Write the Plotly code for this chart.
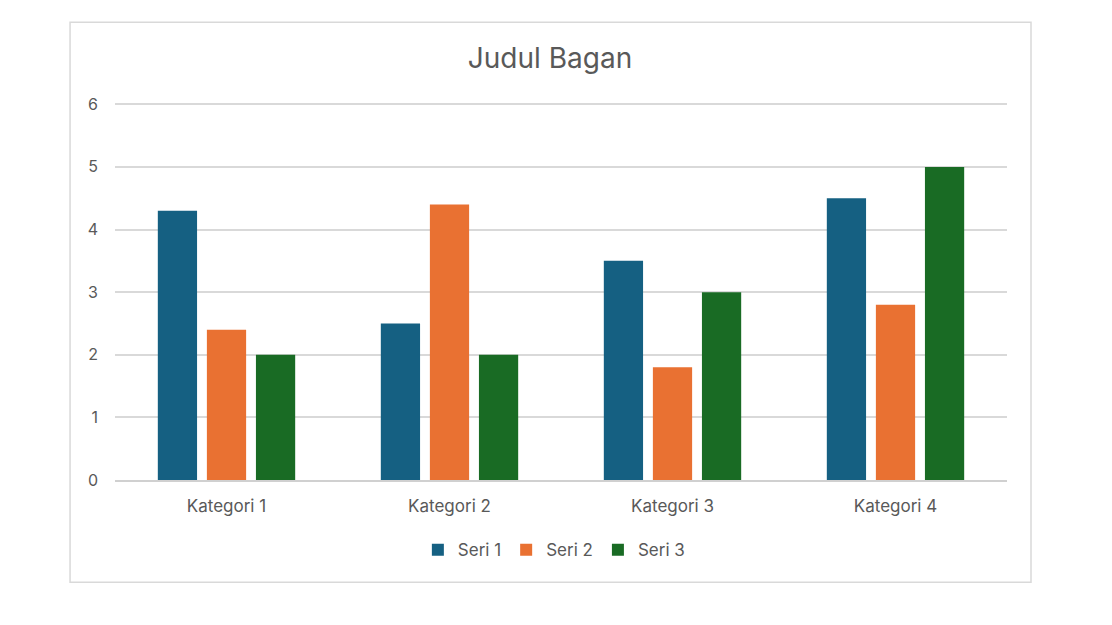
import plotly.graph_objects as go

# Data
kategori = ["Kategori 1", "Kategori 2", "Kategori 3", "Kategori 4"]
seri_1 = [4.3, 2.5, 3.5, 4.5]
seri_2 = [2.4, 4.4, 1.8, 2.8]
seri_3 = [2, 2, 3, 5]

nama_seri = ["Seri 1", "Seri 2", "Seri 3"]
warna = ["#156082", "#E97132", "#196B24"]

fig = go.Figure()
for nama, nilai, w in zip(nama_seri, [seri_1, seri_2, seri_3], warna):
    fig.add_trace(go.Bar(x=kategori, y=nilai, name=nama, marker_color=w,
                         marker_line_width=0))

teks = "#595959"
# halaman punya margin 8px, jadi semua digeser 8px
fig.update_layout(
    width=1112, height=625,
    paper_bgcolor="white", plot_bgcolor="white",
    margin=dict(l=107, r=113, t=95, b=153),
    font=dict(family="Inter, Lato, sans-serif", color=teks),
    barmode="group", bargap=0.34, bargroupgap=0.2,
    title=dict(text="Judul Bagan", x=542 / 1112, xanchor="center",
               y=1 - 50 / 625, yref="container", yanchor="middle",
               font=dict(size=28, color=teks)),
    legend=dict(orientation="h", x=0.492, xanchor="center",
                y=-0.186, yanchor="middle", font=dict(size=17, color=teks),
                itemwidth=30, tracegroupgap=0),
    showlegend=True,
)
fig.update_xaxes(showgrid=False, showline=True, linecolor="#d0d0d0",
                 linewidth=1.5, ticks="", tickfont=dict(size=17, color=teks),
                 ticklabelstandoff=10)
fig.update_yaxes(range=[0, 6.02], dtick=1, showgrid=True, gridcolor="#d9d9d9",
                 gridwidth=1.5, zeroline=False, showline=False, ticks="",
                 tickfont=dict(size=16, color=teks), ticklabelstandoff=16)

# Bingkai bagan
fig.add_shape(type="rect", xref="paper", yref="paper",
              x0=-0.0504, x1=1.0269, y0=-0.271, y1=1.214,
              line=dict(color="#d9d9d9", width=1.5), fillcolor="rgba(0,0,0,0)",
              layer="below")

fig.write_html("out.html")
